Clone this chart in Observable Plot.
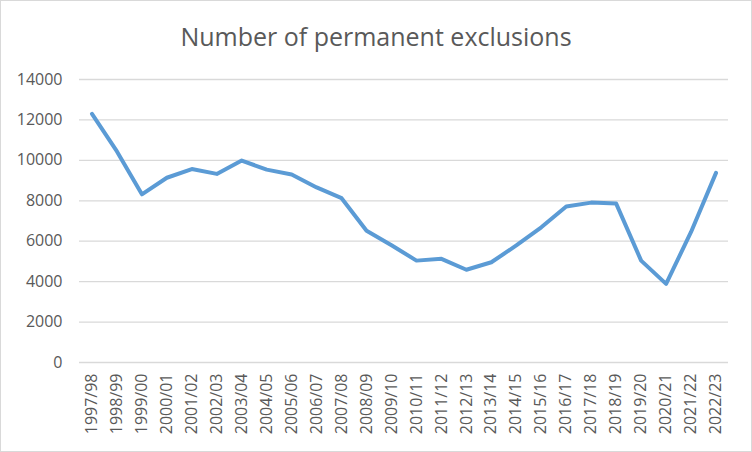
<!DOCTYPE html>
<html><head><meta charset="utf-8">
<script src="https://cdn.jsdelivr.net/npm/d3@7"></script>
<script src="https://cdn.jsdelivr.net/npm/@observablehq/plot@0.6"></script>
<style>
body{margin:0;background:#fff}
#chart{position:relative;width:752px;height:452px;font-family:"Open Sans",sans-serif}
#frame{position:absolute;left:0;top:0;width:752px;height:452px;box-sizing:border-box;border:1px solid #d9d9d9;pointer-events:none}
#title{position:absolute;left:0;right:0;top:21px;text-align:center;font-size:25px;line-height:30px;color:#595959}
#chart svg{display:block}
</style>
</head><body>
<div id="chart"><div id="title">Number of permanent exclusions</div><div id="frame"></div></div>
<script>
const years = ["1997/98","1998/99","1999/00","2000/01","2001/02","2002/03","2003/04","2004/05","2005/06","2006/07","2007/08","2008/09","2009/10","2010/11","2011/12","2012/13","2013/14","2014/15","2015/16","2016/17","2017/18","2018/19","2019/20","2020/21","2021/22","2022/23"];
const exclusions = [12300,10440,8320,9140,9570,9330,9990,9540,9300,8660,8130,6520,5800,5040,5130,4590,4960,5790,6690,7720,7910,7860,5040,3890,6460,9380];
const yTicks = [0,2000,4000,6000,8000,10000,12000,14000];

const data = years.map((y,i)=>({year:y, value:exclusions[i]}));

const chart = Plot.plot({
  width:752, height:452,
  marginLeft:79, marginRight:24, marginTop:79, marginBottom:90,
  style:{fontFamily:"Open Sans, sans-serif", fontSize:"16px", color:"#595959", background:"transparent"},
  x:{type:"point", domain:years, padding:0.5, round:false, label:null},
  y:{domain:[0,14000], label:null},
  marks:[
    Plot.ruleY(yTicks,{stroke:"#d9d9d9", strokeWidth:1.3}),
    Plot.axisY({ticks:yTicks, tickSize:0, tickPadding:17, tickFormat:d=>String(d), fill:"#595959", label:null}),
    Plot.axisX({tickSize:0, tickRotate:-90, tickPadding:11, fill:"#595959", label:null}),
    Plot.line(data,{x:"year", y:"value", stroke:"#5b9bd5", strokeWidth:4, strokeLinejoin:"round", strokeLinecap:"round"})
  ]
});
document.getElementById("chart").insertBefore(chart, document.getElementById("frame"));
</script>
</body></html>
